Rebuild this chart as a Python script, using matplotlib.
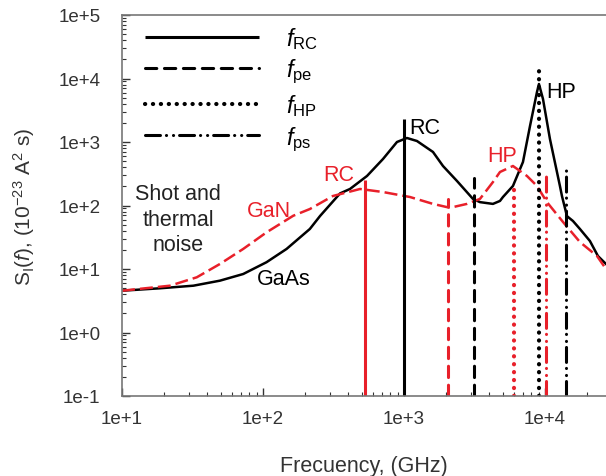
import numpy as np
import matplotlib
matplotlib.use("Agg")
import matplotlib.pyplot as plt
from matplotlib.ticker import FuncFormatter, LogLocator, NullFormatter
from matplotlib.lines import Line2D

plt.rcParams['font.family'] = ['Liberation Sans', 'DejaVu Sans']
plt.rcParams['mathtext.fontset'] = 'custom'
plt.rcParams['mathtext.rm'] = 'Liberation Sans'
plt.rcParams['mathtext.it'] = 'Liberation Sans:italic'

RED = '#e8202a'
GREY = '#333333'

# Noise spectra, frequency in GHz, S_I in 1e-23 A^2 s
gaas_f = [10, 18.6, 32.1, 49.5, 72.4, 106, 147, 215, 254, 352, 414, 547, 710,
          892, 1050, 1236, 1606, 1891, 2378, 3085, 3459, 4276, 4797, 5035,
          5929, 6982, 7834, 8779, 9066, 9683, 10850, 12770, 13200, 14330,
          15800, 17700, 20840, 23760, 27100]
gaas_s = [4.55, 4.97, 5.46, 6.55, 8.34, 12.8, 20.7, 42.7, 68.4, 155, 182, 292,
          540, 1000, 1156, 1037, 697, 419, 243, 127, 113, 106, 118, 136,
          203, 484, 1786, 6124, 8190, 4755, 1114, 203, 141, 68,
          57, 42.7, 27.6, 16, 12]

gan_f = [10, 21.9, 33.9, 49.5, 72.4, 106, 164, 215, 313, 488, 710, 1104, 1606,
         2118, 2797, 3459, 4276, 4797, 5929, 7450, 8779, 10330, 13430, 17700,
         23400, 27100]
gan_s = [4.55, 5.46, 7.4, 12, 20.7, 37.8, 69, 88, 141, 182, 163, 136, 106,
         92, 106, 127, 234, 337, 419, 292, 203, 113, 55, 26.6,
         16, 10]

# Characteristic frequencies (RC, pe, HP, ps) and marker heights
gaas_char_f = [1000, 3150, 9100, 14200]
gaas_char_top = [2300, 270, 14000, 420]
gan_char_f = [525, 2040, 6000, 10100]
gan_char_top = [250, 126, 182, 290]

char_names = ['RC', 'pe', 'HP', 'ps']
styles = ['-', (0, (3.7, 2.5)), (0, (0.05, 1.85)),
          (0, (4.9, 1.95, 0.05, 2.25, 0.05, 1.95))]
caps = ['butt', 'round', 'round', 'round']
widths = [2.2, 2.2, 3.0, 2.2]

fig = plt.figure(figsize=(6.06, 4.77), dpi=100)
ax = fig.add_axes([122 / 606, 80 / 477, 484 / 606, 381 / 477])

ax.plot(gaas_f, gaas_s, color='black', lw=1.8)
ax.plot(gan_f, gan_s, color=RED, lw=1.8, dashes=(5.2, 2.0))

for f, top, ls, cap, w in zip(gan_char_f, gan_char_top, styles, caps, widths):
    ax.plot([f, f], [0.1, top], color=RED, lw=w, ls=ls,
            solid_capstyle='butt', dash_capstyle=cap)
for f, top, ls, cap, w in zip(gaas_char_f, gaas_char_top, styles, caps, widths):
    ax.plot([f, f], [0.1, top], color='black', lw=w, ls=ls,
            solid_capstyle='butt', dash_capstyle=cap)

ax.set_xscale('log')
ax.set_yscale('log')
ax.set_xlim(10, 27100)
ax.set_ylim(0.1, 1e5)

fmt = FuncFormatter(lambda v, p: f"1e{int(round(np.log10(v))):+d}")
ax.xaxis.set_major_formatter(fmt)
ax.yaxis.set_major_formatter(fmt)
ax.xaxis.set_minor_formatter(NullFormatter())
ax.yaxis.set_minor_formatter(NullFormatter())
ax.xaxis.set_major_locator(LogLocator(base=10, numticks=10))
ax.yaxis.set_major_locator(LogLocator(base=10, numticks=10))
ax.tick_params(which='both', direction='in', colors=GREY, labelsize=13.5)
ax.tick_params(which='major', length=6, width=1)
ax.tick_params(which='minor', length=3, width=0.8)
ax.tick_params(axis='y', pad=15.5)
ax.tick_params(axis='x', pad=10)
ax.tick_params(right=False, top=False)
for side in ['left', 'bottom', 'top']:
    ax.spines[side].set_color('#777777')
    ax.spines[side].set_linewidth(1.2)
ax.spines['right'].set_visible(False)

ax.set_xlabel('Frecuency, (GHz)', fontsize=15.5, color=GREY)
ax.set_ylabel(r'S$_\mathrm{I}$($f$), (10$^{-23}$ A$^2$ s)', fontsize=15,
              color=GREY)
ax.xaxis.set_label_coords(0.5, -0.155)
ax.yaxis.set_label_coords(-0.176, 0.5)

# annotations
ax.text(1084, 2480, 'RC', fontsize=15.5, color='black', va='top', ha='left')
ax.text(10160, 9140, 'HP', fontsize=15.5, color='black', va='top', ha='left')
ax.text(3880, 624, 'HP', fontsize=15.5, color=RED, va='center', ha='left')
ax.text(267, 313, 'RC', fontsize=15.5, color=RED, va='center', ha='left')
ax.text(110, 82, 'GaN', fontsize=15.5, color=RED, va='center', ha='center')
ax.text(141, 7.0, 'GaAs', fontsize=15.5, color='black', va='center', ha='center')
ax.text(25, 61, 'Shot and\nthermal\nnoise', fontsize=15.5, color='#222222',
        va='center', ha='center', linespacing=1.3)

handles = [Line2D([], [], color='black', lw=w, ls=ls, dash_capstyle=cap,
                  solid_capstyle='butt')
           for ls, cap, w in zip(styles, caps, widths)]
labels = [rf'$f_{{\mathrm{{{n}}}}}$' for n in char_names]
ax.legend(handles, labels, loc='upper left', bbox_to_anchor=(0.004, 1.03),
          frameon=False, fontsize=17, handlelength=4.8, handletextpad=1.15,
          labelspacing=0.27)

fig.savefig('out.png', dpi=100)
